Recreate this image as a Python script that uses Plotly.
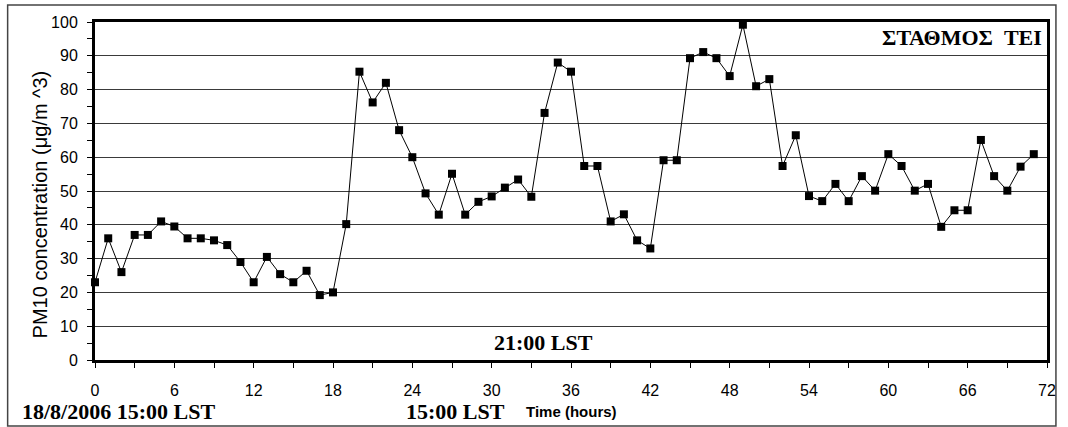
import plotly.graph_objects as go

hours = list(range(72))
pm10 = [23, 36, 26, 37, 37, 41, 39.5, 36, 36, 35.4, 34, 29, 23, 30.5, 25.4, 23, 26.4, 19.2, 20, 40.2,
        85.3, 76.2, 82, 68, 60, 49.3, 43, 55.1, 43, 46.8, 48.4, 51, 53.4, 48.3, 73.1, 88, 85.3, 57.4,
        57.4, 41, 43.1, 35.4, 33, 59.1, 59.1, 89.3, 91.1, 89.3, 84, 99.2, 81, 83.1, 57.4, 66.5, 48.5,
        47, 52.1, 47, 54.4, 50.1, 60.9, 57.4, 50.1, 52.1, 39.4, 44.3, 44.3, 65.1, 54.4, 50.1, 57.2, 60.9]
x_ticks = list(range(0, 73, 6))
y_ticks = list(range(0, 101, 10))

W, H = 1068, 427
L, R, T, B = 95, 1054, 22, 360

def px(xp):
    return (xp - L) / (R - L)

def py(yp):
    return (B - yp) / (B - T)

fig = go.Figure()
fig.add_trace(go.Scatter(
    x=hours, y=pm10, mode="lines+markers",
    line=dict(color="black", width=1),
    marker=dict(symbol="square", size=8, color="black"),
    cliponaxis=False, showlegend=False,
))

axis_font = dict(family="Liberation Sans, Arial, sans-serif", size=16, color="black")
fig.update_xaxes(
    range=[0, 72], tickvals=x_ticks, ticktext=[str(v) for v in x_ticks],
    ticks="outside", ticklen=5, tickwidth=1, tickcolor="black",
    minor=dict(dtick=3, tick0=0, ticks="outside", ticklen=5, tickcolor="black", tickwidth=1),
    showline=True, linewidth=3, linecolor="black", mirror=True,
    showgrid=False, zeroline=False, tickfont=axis_font, ticklabelstandoff=9,
)
fig.update_yaxes(
    range=[0, 100], tickvals=y_ticks, ticktext=[str(v) for v in y_ticks],
    ticks="outside", ticklen=5, tickwidth=1, tickcolor="black",
    minor=dict(dtick=5, tick0=0, ticks="outside", ticklen=5, tickcolor="black", tickwidth=1, showgrid=False),
    showline=True, linewidth=3, linecolor="black", mirror=True,
    showgrid=True, gridcolor="#3a3a3a", gridwidth=1, zeroline=False,
    tickfont=axis_font, ticklabelstandoff=6,
)

serif = "Liberation Serif, Times New Roman, serif"
anns = [
    dict(text="<b>ΣΤΑΘΜΟΣ\u00a0\u00a0ΤΕΙ</b>", x=px(1051), y=py(37), xanchor="right", yanchor="middle",
         font=dict(family=serif, size=22, color="black")),
    dict(text="<b>21:00 LST</b>", x=px(547), y=py(342), xanchor="center", yanchor="middle",
         font=dict(family=serif, size=22, color="black")),
    dict(text="<b>18/8/2006 15:00 LST</b>", x=px(19), y=py(411), xanchor="left", yanchor="middle",
         font=dict(family=serif, size=22, color="black")),
    dict(text="<b>15:00 LST</b>", x=px(406), y=py(412), xanchor="left", yanchor="middle",
         font=dict(family=serif, size=22, color="black")),
    dict(text="<b>Time (hours)</b>", x=px(527), y=py(411), xanchor="left", yanchor="middle",
         font=dict(family="Liberation Sans, Arial, sans-serif", size=15, color="black")),
    dict(text="PM10 concentration (μg/m ^3)", x=px(40), y=py(204), xanchor="center", yanchor="middle",
         textangle=-90, font=dict(family="Liberation Sans, Arial, sans-serif", size=20, color="black")),
]
for a in anns:
    a.update(xref="paper", yref="paper", showarrow=False)
fig.update_layout(annotations=anns)

fig.add_shape(type="rect", xref="paper", yref="paper",
              x0=px(7), x1=px(1063), y0=py(426), y1=py(5),
              line=dict(color="#444444", width=1.5), fillcolor="rgba(0,0,0,0)", layer="below")

fig.update_layout(
    width=W, height=H,
    margin=dict(l=L, r=W - R, t=T, b=H - B, pad=0),
    plot_bgcolor="white", paper_bgcolor="white",
)
fig.write_html("out.html", config={"displayModeBar": False},
               post_script="document.body.style.margin='0';document.body.style.overflow='hidden';")
